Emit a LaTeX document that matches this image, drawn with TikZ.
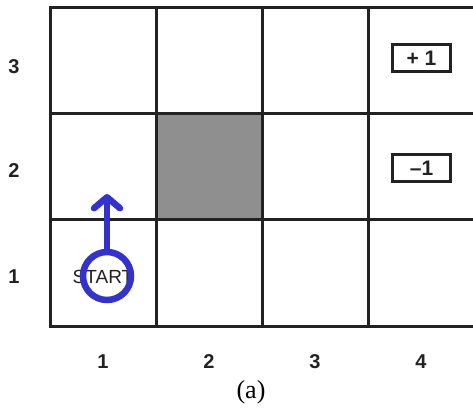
\documentclass[tikz,border=0pt]{standalone}
\usepackage{fontspec}
\setmainfont{Liberation Serif}
\setsansfont{Liberation Sans}
\usetikzlibrary{arrows.meta}
\definecolor{gridc}{HTML}{222222}
\definecolor{wallc}{HTML}{8F8F8F}
\definecolor{pathc}{HTML}{3333CC}
\tikzset{
  gridline/.style={draw=gridc, line width=3pt},
  axislabel/.style={font=\sffamily\bfseries\fontsize{20}{20}\selectfont, text=gridc, inner sep=0pt},
  reward/.style={draw=gridc, line width=3pt, minimum width=58pt, minimum height=27pt, inner sep=0pt,
    font=\sffamily\bfseries\fontsize{21}{21}\selectfont, text=gridc},
  startlabel/.style={font=\sffamily\fontsize{19}{19}\selectfont, text=gridc, inner sep=0pt},
  agent/.style={circle, draw=pathc, line width=6.5pt, minimum size=48pt, inner sep=0pt},
  move/.style={draw=pathc, line width=6.5pt, line cap=round,
    -{Straight Barb[length=11pt, width=26pt, round]}},
}
\begin{document}
\begin{tikzpicture}[x=1pt, y=-1pt]
\useasboundingbox (0,0) rectangle (473,415);
% wall cell
\fill[wallc] (156,113) rectangle (262,219);
% grid
\draw[gridline] (50,7) rectangle (475,326);
\draw[gridline] (156,7) -- (156,326);
\draw[gridline] (262,7) -- (262,326);
\draw[gridline] (368,7) -- (368,326);
\draw[gridline] (50,113) -- (475,113);
\draw[gridline] (50,219) -- (475,219);
% row labels
\node[axislabel] (r3) at (14,67) {3};
\node[axislabel] (r2) at (14,171) {2};
\node[axislabel] (r1) at (14,277) {1};
% column labels
\node[axislabel] (c1) at (103,362) {1};
\node[axislabel] (c2) at (209,362) {2};
\node[axislabel] (c3) at (315,362) {3};
\node[axislabel] (c4) at (421,362) {4};
% rewards
\node[reward] (plus) at (421.5,58) {+ 1};
\node[reward] (minus) at (421.5,168) {–1};
% start
\node[startlabel] (startText) at (103,277) {START};
\node[agent] (agent) at (107,276) {};
\coordinate (goal) at (107,194);
\draw[move] (agent.north) -- (goal);
% caption
\node[font=\fontsize{26}{26}\selectfont, inner sep=0pt] (cap) at (251,392) {(a)};
\end{tikzpicture}
\end{document}
